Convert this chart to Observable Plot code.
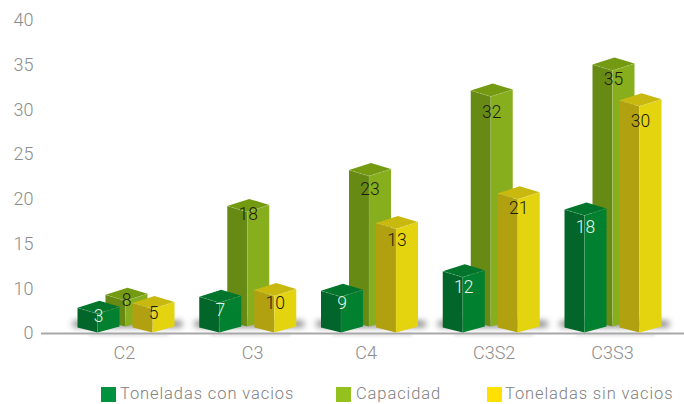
<!DOCTYPE html>
<html>
<head>
<meta charset="utf-8">
<script src="https://cdn.jsdelivr.net/npm/d3@7"></script>
<script src="https://cdn.jsdelivr.net/npm/@observablehq/plot@0.6"></script>
<style>
html,body{margin:0;padding:0;background:#fff;}
svg{display:block;}
#legend{position:relative;width:684px;height:29px;font-family:Roboto,sans-serif;font-weight:300;font-size:16.5px;letter-spacing:0.9px;color:#808080;overflow:hidden;}
#legend i{position:absolute;top:12px;width:15px;height:15px;}
#legend span{position:absolute;top:9px;line-height:20px;white-space:nowrap;}
</style>
</head>
<body>
<div id="chart"></div>
<div id="legend"></div>
<script>
// ---- data ----
const categories = ["C2", "C3", "C4", "C3S2", "C3S3"];
const categoryTicks = [0, 1.05, 1.98, 3.03, 4];
const axisTicks = [0, 10, 15, 20, 25, 30, 35, 40];
const seriesNames = ["Toneladas con vacios", "Capacidad", "Toneladas sin vacios"];

// printed labels
const conVacios = [3, 7, 9, 12, 18];
const capacidad = [8, 18, 23, 32, 35];
const sinVacios = [5, 10, 13, 21, 30];

// height of each drawn bar's front corner, read against the axis
const conVaciosDrawn = [4.4, 6.9, 8.2, 11.3, 18.2];
const capacidadDrawn = [7.3, 18.6, 22.6, 31.5, 34.4];
const sinVaciosDrawn = [5.5, 8.4, 16.7, 20, 30.4];

// how far below the front corner each printed label sits
const conVaciosDrop = [3, 8, 7, 10, 12];
const capacidadDrop = [0, 3, 13, 16, 9];
const sinVaciosDrop = [4, 7, 12, 9, 15];

const palette = {
  green: {left: "#02662a", right: "#01812f", top: "#01752b", key: "#00923f", label: "#e8f2ea"},
  lime: {left: "#678a15", right: "#87ae1d", top: "#749a12", key: "#95c11f", label: "#1c1c0c"},
  yellow: {left: "#b1a110", right: "#e3d40f", top: "#c9b90f", key: "#ffe000", label: "#1c1c0c"}
};

// ---- layout ----
const W = 684, H = 375;
const yRange = axisTicks.map((_, i) => 333 - i * 44.71);
const xDomain = [-0.68, 4.5902], xRange = [41, 684];
const yPx = d3.scaleLinear().domain(axisTicks).range(yRange);
const xPx = d3.scaleLinear().domain(xDomain).range(xRange);
const X = (p) => xPx.invert(p), Y = (p) => yPx.invert(p);

const groupStep = 121.75, firstFront = 97;
const series = [
  {c: palette.lime, values: capacidad, drawn: capacidadDrawn, drop: capacidadDrop, off: 28, base: 326},
  {c: palette.green, values: conVacios, drawn: conVaciosDrawn, drop: conVaciosDrop, off: 0, base: 332},
  {c: palette.yellow, values: sinVacios, drawn: sinVaciosDrawn, drop: sinVaciosDrop, off: 55, base: 332}
];

const poly = (pts) => pts.map(([x, y]) => ({x: X(x), y: Y(y)}));
const lineXY = {x: "x", y: "y", curve: "linear-closed"};

const marks = [];

// floor shadows
categories.forEach((_, i) => {
  const f = firstFront + i * groupStep;
  marks.push(Plot.line(poly([[f - 22, 323.5], [f + 82, 323.5]]), {
    x: "x", y: "y", stroke: "#7d7d7d", strokeWidth: 6, strokeLinecap: "round", imageFilter: "blur(3px)"
  }));
  marks.push(Plot.line(poly([[f - 8, 334.5], [f + 70, 334.5]]), {
    x: "x", y: "y", stroke: "#b5b5b5", strokeWidth: 2, strokeOpacity: 0.5, imageFilter: "blur(1.5px)"
  }));
});

// baseline
marks.push(Plot.ruleY([0], {x1: xDomain[0], x2: xDomain[1], stroke: "#a8a8a8", strokeWidth: 2}));

// bars: three faces each
const labels = [];
series.forEach((s) => {
  s.values.forEach((v, i) => {
    const fx = firstFront + i * groupStep + s.off;
    const ft = yPx(s.drawn[i]);
    const fb = s.base;
    const L = fx - 20, R = fx + 22;
    marks.push(Plot.line(poly([[L, ft - 6], [fx, ft], [fx, fb], [L, fb - 5]]), {...lineXY, fill: s.c.left}));
    marks.push(Plot.line(poly([[fx, ft], [R, ft - 7], [R, fb - 6], [fx, fb]]), {...lineXY, fill: s.c.right}));
    marks.push(Plot.line(poly([[L, ft - 6], [fx + 2, ft - 13], [R, ft - 7], [fx, ft]]), {...lineXY, fill: s.c.top}));
    marks.push(Plot.line(poly([[L, ft - 6], [fx, ft], [R, ft - 7]]), {
      x: "x", y: "y", stroke: "#fff", strokeOpacity: 0.22, strokeWidth: 0.7, strokeDasharray: "3 2"
    }));
    marks.push(Plot.line(poly([[fx, ft], [fx, fb]]), {
      x: "x", y: "y", stroke: "#fff", strokeOpacity: 0.1, strokeWidth: 1
    }));
    labels.push(Plot.text([v], {
      x: () => X(fx + 1), y: () => Y(ft + s.drop[i]), text: (d) => String(d),
      fill: s.c.label, fontSize: 17.5, fontWeight: 300
    }));
  });
});

const chart = Plot.plot({
  width: W,
  height: H,
  marginTop: 0,
  marginLeft: 33,
  marginRight: 0,
  marginBottom: H - 333,
  style: {fontFamily: "Roboto, sans-serif", fontWeight: 300, background: "#fff", overflow: "visible"},
  x: {type: "linear", domain: xDomain, range: xRange},
  y: {type: "linear", domain: axisTicks, range: yRange},
  marks: [
    ...marks,
    ...labels,
    Plot.axisY(axisTicks, {anchor: "left", tickSize: 0, tickPadding: 0, fontSize: 18, label: null, tickFormat: (d) => String(d), fill: "#8c8c8c"}),
    Plot.axisX(categoryTicks, {anchor: "bottom", tickSize: 0, tickPadding: 13, fontSize: 18, fill: "#8c8c8c", label: null, tickFormat: (d) => categories[categoryTicks.indexOf(d)]})
  ]
});
document.getElementById("chart").append(chart);

// legend
const legendEntries = [
  {name: seriesNames[0], key: palette.green.key, sw: 101, tx: 120},
  {name: seriesNames[1], key: palette.lime.key, sw: 336, tx: 356},
  {name: seriesNames[2], key: palette.yellow.key, sw: 487, tx: 505}
];
const lg = document.getElementById("legend");
legendEntries.forEach((e) => {
  const i = document.createElement("i");
  i.style.left = e.sw + "px"; i.style.background = e.key;
  const t = document.createElement("span");
  t.style.left = e.tx + "px"; t.textContent = e.name;
  lg.append(i, t);
});
</script>
</body>
</html>
